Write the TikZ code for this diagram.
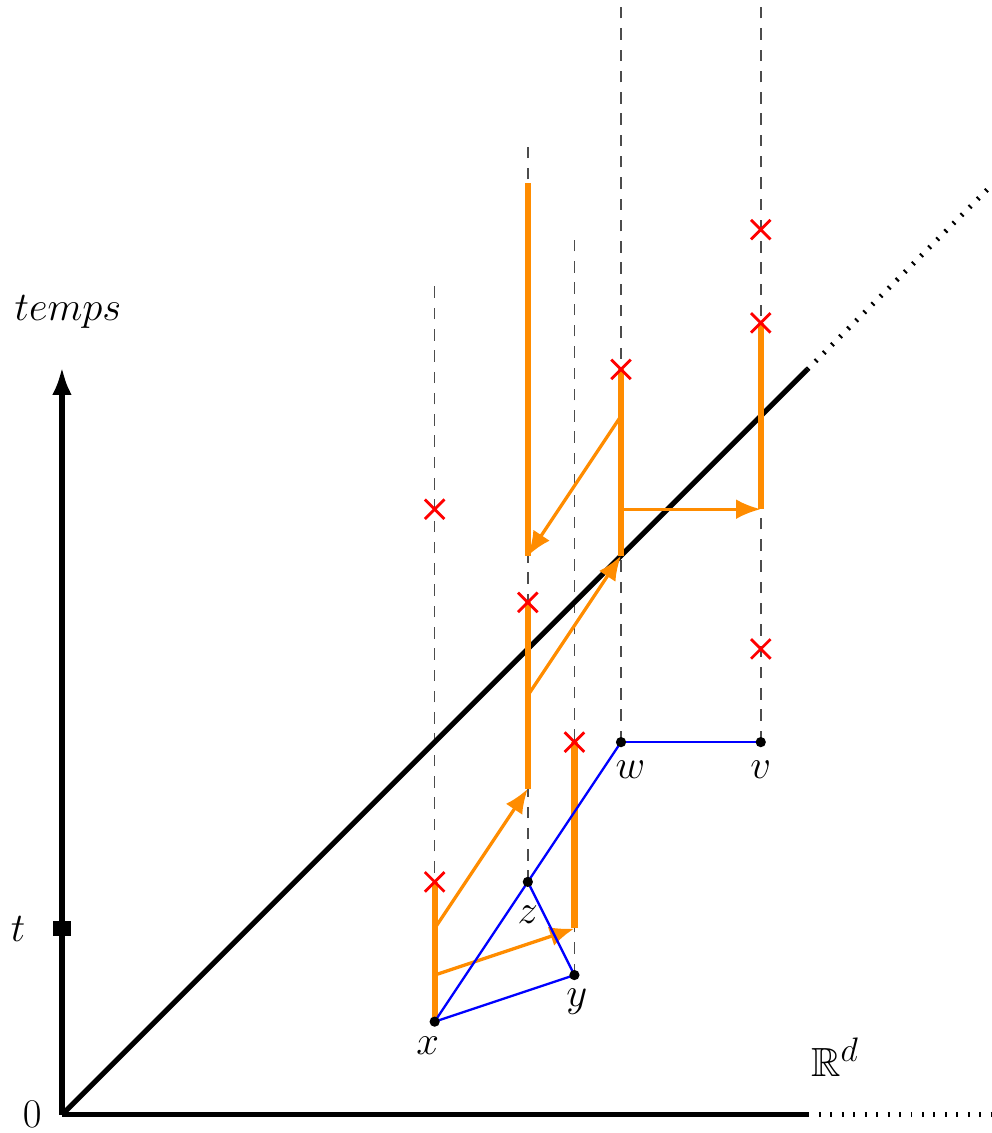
\documentclass[tikz,border=0pt]{standalone}
\usepackage{amsmath}
\usepackage{amsfonts}
\usepackage{xcolor}
\usepackage{tikz}
\usetikzlibrary{arrows.meta, shapes.misc, positioning}

\definecolor{traj}{RGB}{255,140,0}

\begin{document}
\begin{tikzpicture}[scale=1.0, line width=1pt,
        lbl/.style={font=\fontsize{24.88}{30}\selectfont, inner sep=2pt},
        guide/.style={gray!60!black, line width=0.9pt, dash pattern=on 7pt off 6pt},
        axe/.style={black, line width=3.2pt},
        pointille/.style={black, line width=3pt, dash pattern=on 1.2pt off 5.8pt},
        reste/.style={traj, line width=3.8pt},
        saut/.style={traj, line width=2pt, -{Latex[length=15pt,width=12pt]}},
        lien/.style={blue, line width=1.4pt},
        croix/.style={cross out, draw=red, line width=1.7pt, minimum size=0.36cm, inner sep=0pt}]
        \useasboundingbox (-1.33,-0.39) rectangle (19.96,23.93);

        % points du graphe
        \coordinate (O) at (0,0);
        \coordinate (x) at (8,2);
        \coordinate (y) at (11,3);
        \coordinate (z) at (10,5);
        \coordinate (w) at (12,8);
        \coordinate (v) at (15,8);

        % horloges (croix)
        \coordinate (kx1) at (8,5);
        \coordinate (kx2) at (8,13);
        \coordinate (kz) at (10,11);
        \coordinate (ky) at (11,8);
        \coordinate (kw) at (12,16);
        \coordinate (kv1) at (15,10);
        \coordinate (kv2) at (15,17);
        \coordinate (kv3) at (15,19);

        % sauts : depart / arrivee
        \coordinate (s1) at (8,3);   \coordinate (e1) at (11,4);
        \coordinate (s2) at (8,4);   \coordinate (e2) at (10,7);
        \coordinate (s3) at (10,9);  \coordinate (e3) at (12,12);
        \coordinate (s4) at (12,13); \coordinate (e4) at (15,13);
        \coordinate (s5) at (12,15); \coordinate (e5) at (10,12);
        \coordinate (zfin) at (10,20);

        % lignes verticales en tirets
        \foreach \p in {x,y,z,w,v}
            \draw[guide] (\p) -- ++(0,15.8);

        % axes
        \draw[axe] (O) -- (16,0) coordinate (hfin);
        \draw[pointille] (hfin) -- (20,0);
        \draw[axe, -{Latex[length=17pt,width=12pt]}] (O) -- (0,16.05) coordinate (vfin);
        \node[fill=black, minimum width=0.37cm, minimum height=0.34cm, inner sep=0pt] (tick) at (0,4) {};

        % diagonale
        \draw[axe] (O) -- (16,16) coordinate (dfin);
        \draw[pointille] (dfin) -- (20,20);

        % trajectoire
        \draw[reste] (x) -- (kx1);
        \draw[reste] (e1) -- (ky);
        \draw[reste] (e2) -- (kz);
        \draw[reste] (e3) -- (kw);
        \draw[reste] (e4) -- (kv2);
        \draw[reste] (e5) -- (zfin);
        \foreach \i in {1,...,5}
            \draw[saut] (s\i) -- (e\i);

        % graphe
        \draw[lien] (x) -- (y);
        \draw[lien] (x) -- (z);
        \draw[lien] (z) -- (y);
        \draw[lien] (z) -- (w);
        \draw[lien] (w) -- (v);
        \foreach \p in {x,y,z,w,v}
            \fill (\p) circle (0.11);

        \foreach \k in {kx1,kx2,kz,ky,kw,kv1,kv2,kv3}
            \node[croix] (c-\k) at (\k) {};

        % etiquettes
        \node[lbl] (temps) at (0.13,17.23) {$temps$};
        \node[lbl] (tlab) at (-0.94,3.98) {$t$};
        \node[lbl] (zero) at (-0.64,0.02) {$0$};
        \node[lbl] (Rd) at (16.59,1.24) {$\mathbb{R}^d$};
        \node[lbl, below=0.25cm of x, xshift=-0.15cm] (lx) {$x$};
        \node[lbl, below=0.2cm of y, xshift=0.05cm] (ly) {$y$};
        \node[lbl, below=0.42cm of z] (lz) {$z$};
        \node[lbl, below=0.32cm of w, xshift=0.2cm] (lw) {$w$};
        \node[lbl, below=0.32cm of v] (lv) {$v$};
\end{tikzpicture}
\end{document}
